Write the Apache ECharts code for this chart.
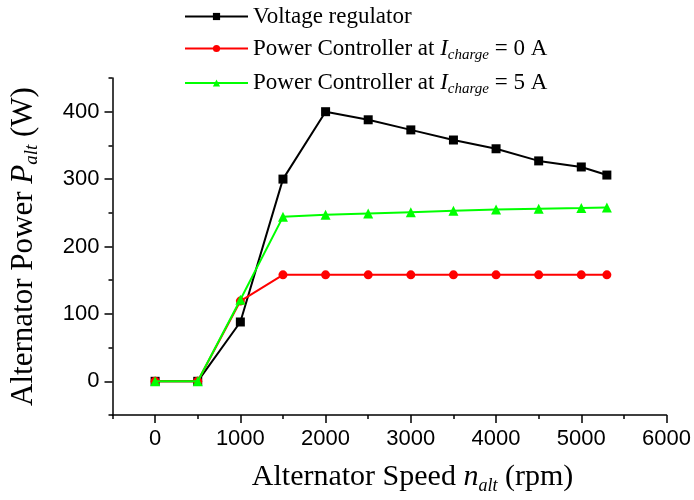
<!DOCTYPE html>
<html>
<head>
<meta charset="utf-8">
<script src="https://cdn.jsdelivr.net/npm/echarts@6/dist/echarts.min.js"></script>
<style>
html, body { margin: 0; padding: 0; background: #fff; }
#box { width: 694px; height: 500px; }
</style>
</head>
<body>
<div id="box"></div>
<script>
var speed = [0, 500, 1000, 1500, 2000, 2500, 3000, 3500, 4000, 4500, 5000, 5300];
var regulator = [0, 0, 88, 300, 400, 388, 373, 358, 345, 327, 318, 306];
var ctrl0A = [0, 0, 119, 158, 158, 158, 158, 158, 158, 158, 158, 158];
var ctrl5A = [0, 0, 121, 244, 247, 249, 251, 253, 255, 256, 257, 258];
var xTicks = [0, 1000, 2000, 3000, 4000, 5000, 6000];
var xMinor = [-500, 500, 1500, 2500, 3500, 4500, 5500];
var yTicks = [0, 100, 200, 300, 400];
var yMinor = [-50, 50, 150, 250, 350, 450];

var serif = 'Liberation Serif';
var sans = 'Liberation Sans';

function pairs(ys) {
    return speed.map(function (x, i) { return [x, ys[i]]; });
}

function richText(big, small, lh) {
    return {
        t: { fontFamily: serif, fontSize: big, color: '#000', lineHeight: lh },
        i: { fontFamily: serif, fontSize: big, fontStyle: 'italic', color: '#000', lineHeight: lh },
        s: { fontFamily: serif, fontSize: small, fontStyle: 'italic', color: '#000', lineHeight: small, verticalAlign: 'bottom' }
    };
}

var dom = document.getElementById('box');
var myChart = echarts.init(dom);
var option = {
    backgroundColor: '#fff',
    animation: false,
    legend: {
        orient: 'vertical',
        left: 179,
        top: 0,
        itemWidth: 63,
        itemHeight: 9,
        itemGap: 9,
        data: ['Voltage regulator', 'ctrl0', 'ctrl5'],
        formatter: function (name) {
            if (name === 'ctrl0') return '{t|Power Controller at }{i|I}{s|charge}{t| = 0 A}';
            if (name === 'ctrl5') return '{t|Power Controller at }{i|I}{s|charge}{t| = 5 A}';
            return '{t|' + name + '}';
        },
        textStyle: { rich: richText(23, 15, 28) }
    },
    grid: {
        left: 112,
        right: 26,
        top: 78,
        bottom: 85,
        containLabel: false
    },
    xAxis: [{
        type: 'value',
        min: -500,
        max: 6000,
        position: 'bottom',
        name: '{t|Alternator Speed }{i|n}{s|alt}{t| (rpm)}',
        nameLocation: 'middle',
        nameGap: 44,
        nameTextStyle: { rich: richText(30, 18, 36), padding: [0, 0, 0, 46] },
        axisLine: { show: true, onZero: false, lineStyle: { color: '#000', width: 1.5 } },
        axisTick: { show: true, inside: false, length: 8, customValues: xTicks, lineStyle: { color: '#000', width: 1.5 } },
        axisLabel: {
            show: true, margin: 13, customValues: xTicks, fontFamily: sans, fontSize: 22, color: '#000',
            formatter: function (v) { return String(v); }
        },
        splitLine: { show: false }
    }, {
        type: 'value',
        min: -500,
        max: 6000,
        position: 'bottom',
        axisLine: { show: false, onZero: false },
        axisTick: { show: true, length: 4, customValues: xMinor, lineStyle: { color: '#000', width: 1.5 } },
        axisLabel: { show: false },
        splitLine: { show: false }
    }],
    yAxis: [{
        type: 'value',
        min: -50,
        max: 450,
        position: 'left',
        name: '{t|Alternator Power }{i|P}{s|alt}{t| (W)}',
        nameLocation: 'middle',
        nameGap: 71,
        nameTextStyle: { rich: richText(31, 19, 36) },
        axisLine: { show: true, onZero: false, lineStyle: { color: '#000', width: 1.5 } },
        axisTick: { show: true, inside: false, length: 8, customValues: yTicks, lineStyle: { color: '#000', width: 1.5 } },
        axisLabel: {
            show: true, margin: 13, customValues: yTicks, fontFamily: sans, fontSize: 22, color: '#000',
            formatter: function (v) { return String(v); }
        },
        splitLine: { show: false }
    }, {
        type: 'value',
        min: -50,
        max: 450,
        position: 'left',
        axisLine: { show: false, onZero: false },
        axisTick: { show: true, length: 4, customValues: yMinor, lineStyle: { color: '#000', width: 1.5 } },
        axisLabel: { show: false },
        splitLine: { show: false }
    }],
    series: [{
        name: 'Voltage regulator',
        type: 'line',
        data: pairs(regulator),
        symbol: 'rect',
        symbolSize: 9,
        lineStyle: { color: '#000', width: 2 },
        itemStyle: { color: '#000' },
        z: 2
    }, {
        name: 'ctrl0',
        type: 'line',
        data: pairs(ctrl0A),
        symbol: 'circle',
        symbolSize: 9,
        lineStyle: { color: '#ff0000', width: 2 },
        itemStyle: { color: '#ff0000' },
        z: 3
    }, {
        name: 'ctrl5',
        type: 'line',
        data: pairs(ctrl5A),
        symbol: 'triangle',
        symbolSize: 10,
        lineStyle: { color: '#00ff00', width: 2 },
        itemStyle: { color: '#00ff00' },
        z: 4
    }]
};
if (option && typeof option === "object") {
    myChart.setOption(option, true);
}
</script>
</body>
</html>
